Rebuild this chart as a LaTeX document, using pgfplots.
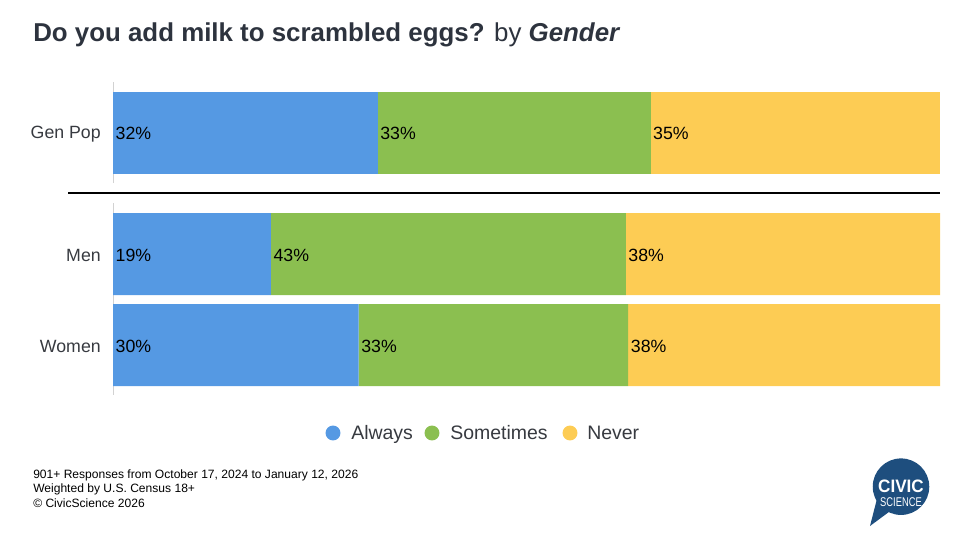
\documentclass[border=0pt]{standalone}
\usepackage{fontspec}
\setmainfont{Liberation Sans}
\usepackage{pgfplots}
\pgfplotsset{compat=1.18}
\definecolor{cAlways}{RGB}{85,153,227}
\definecolor{cSome}{RGB}{139,191,80}
\definecolor{cNever}{RGB}{253,204,84}
\definecolor{cTitle}{RGB}{45,51,62}
\definecolor{cLab}{RGB}{55,58,64}
\definecolor{cLogo}{RGB}{30,78,126}
\definecolor{cAxis}{RGB}{210,210,210}
\begin{document}
\begin{tikzpicture}
\path[use as bounding box] (0,0) rectangle (724.5pt,-404.25pt);
% title
\node[anchor=base west,inner sep=0pt,text=cTitle] at (24.75pt,-30.75pt)
  {\fontsize{19.4}{22}\selectfont\textbf{Do you add milk to scrambled eggs?} by \textbf{\textit{Gender}}};
\pgfplotsset{
  mybars/.style={
    xbar stacked, scale only axis, width=620.25pt,
    xmin=0, xmax=100,
    axis x line=none, axis y line*=left,
    y axis line style={draw=cAxis, line width=0.75pt, -},
    major tick length=0pt,
    yticklabel style={font=\fontsize{13.3}{15}\selectfont, text=cLab, inner sep=0pt, xshift=-9pt, yshift=-1pt},
    bar width=61.5pt,
    clip=false,
  },
  mylabels/.style={
    scale only axis, width=620.25pt, xmin=0, xmax=100,
    hide axis, clip=false,
  },
  lbl/.style={draw=none, mark=none,
    nodes near coords, point meta=explicit symbolic,
    every node near coord/.style={anchor=west, inner sep=0pt, xshift=1.8pt, yshift=-1pt,
      font=\fontsize{13.3}{15}\selectfont, text=black}},
}
\begin{axis}[mybars, at={(84.75pt,-61.5pt)}, anchor=north west, height=75.75pt,
  ymin=-0.5, ymax=0.5, ytick={0}, yticklabels={Gen Pop}]
\addplot[fill=cAlways, draw=none] coordinates {(32,0)};
\addplot[fill=cSome, draw=none] coordinates {(33,0)};
\addplot[fill=cNever, draw=none] coordinates {(35,0)};
\end{axis}
\begin{axis}[mylabels, at={(84.75pt,-61.5pt)}, anchor=north west, height=75.75pt,
  ymin=-0.5, ymax=0.5]
\addplot[lbl] coordinates {(0,0) [32\%] (32,0) [33\%] (65,0) [35\%]};
\end{axis}
\draw[line width=1.5pt, black] (51pt,-144.75pt) -- (705pt,-144.75pt);
\begin{axis}[mybars, at={(84.75pt,-152.25pt)}, anchor=north west, height=144pt,
  y dir=reverse, ymin=-0.5604, ymax=1.5495, ytick={0,1}, yticklabels={Men,Women}]
\addplot[fill=cAlways, draw=none] coordinates {(19.1,0) (29.7,1)};
\addplot[fill=cSome, draw=none] coordinates {(42.9,0) (32.6,1)};
\addplot[fill=cNever, draw=none] coordinates {(38.0,0) (37.7,1)};
\end{axis}
\begin{axis}[mylabels, at={(84.75pt,-152.25pt)}, anchor=north west, height=144pt,
  y dir=reverse, ymin=-0.5604, ymax=1.5495]
\addplot[lbl] coordinates {(0,0) [19\%] (19.1,0) [43\%] (62,0) [38\%]};
\addplot[lbl] coordinates {(0,1) [30\%] (29.7,1) [33\%] (62.3,1) [38\%]};
\end{axis}
% legend
\begin{scope}[font=\fontsize{14.6}{17}\selectfont, text=cLab]
\fill[cAlways] (249.75pt,-324.75pt) circle (5.6pt);
\node[anchor=base west, inner sep=0pt] at (263.25pt,-329.5pt) {Always};
\fill[cSome] (324pt,-324.75pt) circle (5.6pt);
\node[anchor=base west, inner sep=0pt] at (337.5pt,-329.5pt) {Sometimes};
\fill[cNever] (427.5pt,-324.75pt) circle (5.6pt);
\node[anchor=base west, inner sep=0pt] at (440.25pt,-329.5pt) {Never};
\end{scope}
% footer
\begin{scope}[font=\fontsize{9.05}{10}\selectfont, text=black]
\node[anchor=base west, inner sep=0pt] at (24.75pt,-358.5pt) {901+ Responses from October 17, 2024 to January 12, 2026};
\node[anchor=base west, inner sep=0pt] at (24.75pt,-369pt) {Weighted by U.S. Census 18+};
\node[anchor=base west, inner sep=0pt] at (24.75pt,-380.25pt) {© CivicScience 2026};
\end{scope}
% logo
\fill[cLogo] (675.75pt,-365pt) circle (21.2pt);
\fill[cLogo] (658pt,-373pt) -- (652.5pt,-394.5pt) -- (668pt,-383pt) -- cycle;
\node[text=white, inner sep=0pt, anchor=base] at (675.75pt,-369pt)
  {\scalebox{0.95}[1]{\fontsize{13.5}{15}\selectfont\textbf{CIVIC}}};
\node[text=white, inner sep=0pt, anchor=base] at (675.75pt,-379.5pt)
  {\scalebox{0.74}[1]{\fontsize{9.5}{11}\selectfont SCIENCE}};
\end{tikzpicture}
\end{document}
